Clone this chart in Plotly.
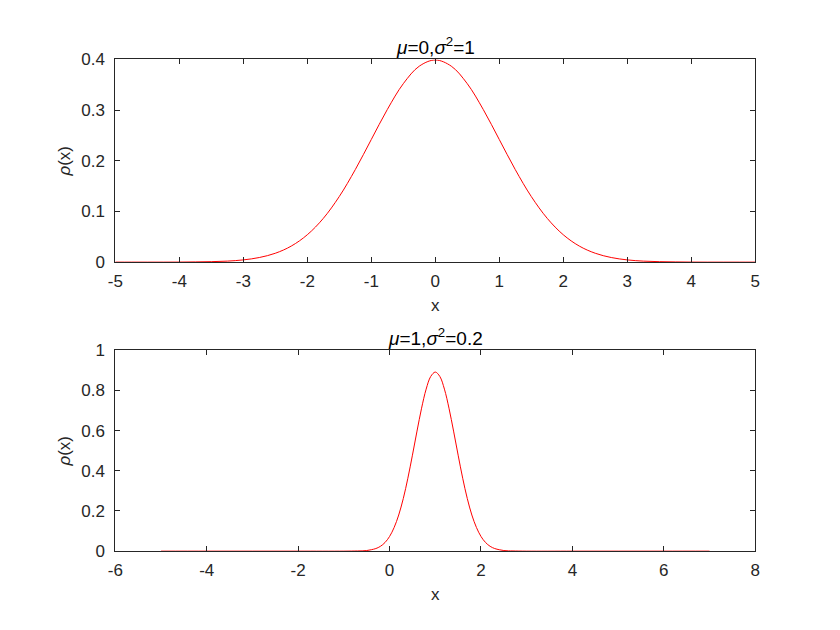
import plotly.graph_objects as go

# Top panel: mu=0, sigma^2=1
x_top = [-5.0, -4.75, -4.5, -4.25, -4.0, -3.75, -3.5, -3.25, -3.0, -2.75, -2.5, -2.25,
         -2.0, -1.75, -1.5, -1.25, -1.0, -0.75, -0.5, -0.25, 0.0, 0.25, 0.5, 0.75,
         1.0, 1.25, 1.5, 1.75, 2.0, 2.25, 2.5, 2.75, 3.0, 3.25, 3.5, 3.75, 4.0,
         4.25, 4.5, 4.75, 5.0]
y_top = [0.0, 0.0, 0.0, 0.0, 0.0001, 0.0004, 0.0009, 0.0020, 0.0044, 0.0091, 0.0175, 0.0317,
         0.0540, 0.0863, 0.1295, 0.1826, 0.2420, 0.3011, 0.3521, 0.3867, 0.3989, 0.3867, 0.3521, 0.3011,
         0.2420, 0.1826, 0.1295, 0.0863, 0.0540, 0.0317, 0.0175, 0.0091, 0.0044, 0.0020, 0.0009, 0.0004, 0.0001,
         0.0, 0.0, 0.0, 0.0]

# Bottom panel: mu=1, sigma^2=0.2
x_bot = [-5.0, -4.0, -3.0, -2.0, -1.0, -0.7, -0.6, -0.5, -0.4, -0.3, -0.2, -0.1, 0.0, 0.1, 0.2,
         0.3, 0.4, 0.5, 0.6, 0.7, 0.8, 0.9, 1.0, 1.1, 1.2, 1.3, 1.4, 1.5, 1.6, 1.7, 1.8,
         1.9, 2.0, 2.1, 2.2, 2.3, 2.4, 2.5, 2.6, 2.7, 3.0, 4.0, 5.0, 6.0, 7.0]
y_bot = [0.0, 0.0, 0.0, 0.0, 0.0, 0.001, 0.0015, 0.003, 0.007, 0.013, 0.024, 0.043, 0.073, 0.118, 0.180,
         0.262, 0.363, 0.478, 0.598, 0.712, 0.807, 0.870, 0.892, 0.870, 0.807, 0.712, 0.598, 0.478, 0.363, 0.262, 0.180,
         0.118, 0.073, 0.043, 0.024, 0.013, 0.007, 0.003, 0.0015, 0.001, 0.0, 0.0, 0.0, 0.0, 0.0]

top_title = "<i>μ</i>=0,<i>σ</i><sup>2</sup>=1"
bot_title = "<i>μ</i>=1,<i>σ</i><sup>2</sup>=0.2"
x_ticks_top = [-5, -4, -3, -2, -1, 0, 1, 2, 3, 4, 5]
x_labels_top = ["-5", "-4", "-3", "-2", "-1", "0", "1", "2", "3", "4", "5"]
y_ticks_top = [0, 0.1, 0.2, 0.3, 0.4]
y_labels_top = ["0", "0.1", "0.2", "0.3", "0.4"]
x_ticks_bot = [-6, -4, -2, 0, 2, 4, 6, 8]
x_labels_bot = ["-6", "-4", "-2", "0", "2", "4", "6", "8"]
y_ticks_bot = [0, 0.2, 0.4, 0.6, 0.8, 1]
y_labels_bot = ["0", "0.2", "0.4", "0.6", "0.8", "1"]

W, H = 840, 630
L, R = 109, 759
top_y = (52, 261)
bot_y = (352, 559)
FAM = "Liberation Sans, Arial, sans-serif"
INK = "#262626"

fig = go.Figure()
fig.add_trace(go.Scatter(x=x_top, y=y_top, mode="lines", line=dict(color="#ff0000", width=1, shape="spline"),
                         xaxis="x", yaxis="y", showlegend=False, hoverinfo="skip"))
fig.add_trace(go.Scatter(x=x_bot, y=y_bot, mode="lines", line=dict(color="#ff0000", width=1, shape="spline"),
                         xaxis="x2", yaxis="y2", showlegend=False, hoverinfo="skip"))

font = dict(family=FAM, size=17, color=INK)
axis_common = dict(showline=True, linecolor=INK, linewidth=1, mirror="ticks", ticks="inside",
                   ticklen=5, tickcolor=INK, showgrid=False, zeroline=False,
                   tickfont=font, title_font=dict(family=FAM, size=17, color=INK))
xaxis_extra = dict(ticklabelstandoff=3)
yaxis_extra = dict(ticklabelstandoff=6)

xd = [L / W, R / W]
fig.update_layout(
    width=W, height=H, margin=dict(l=0, r=0, t=0, b=0),
    paper_bgcolor="white", plot_bgcolor="white", font=font,
    xaxis=dict(domain=xd, range=[-5, 5], tickvals=x_ticks_top, ticktext=x_labels_top, anchor="y",
               title=dict(text="x", standoff=9), **axis_common, **xaxis_extra),
    yaxis=dict(domain=[1 - top_y[1] / H, 1 - top_y[0] / H], range=[0, 0.4], tickvals=y_ticks_top,
               ticktext=y_labels_top, anchor="x", title=dict(text="<i>ρ</i>(x)", standoff=6),
               **axis_common, **yaxis_extra),
    xaxis2=dict(domain=xd, range=[-6, 8], tickvals=x_ticks_bot, ticktext=x_labels_bot, anchor="y2",
                title=dict(text="x", standoff=9), **axis_common, **xaxis_extra),
    yaxis2=dict(domain=[1 - bot_y[1] / H, 1 - bot_y[0] / H], range=[0, 1], tickvals=y_ticks_bot,
                ticktext=y_labels_bot, anchor="x2", title=dict(text="<i>ρ</i>(x)", standoff=6),
                **axis_common, **yaxis_extra),
    annotations=[
        dict(text=top_title, x=(xd[0] + xd[1]) / 2, y=1 - top_y[0] / H, xref="paper", yref="paper",
             xanchor="center", yanchor="middle", showarrow=False, yshift=13,
             font=dict(family=FAM, size=19, color="#000000")),
        dict(text=bot_title, x=(xd[0] + xd[1]) / 2, y=1 - bot_y[0] / H, xref="paper", yref="paper",
             xanchor="center", yanchor="middle", showarrow=False, yshift=13,
             font=dict(family=FAM, size=19, color="#000000")),
    ],
)

fig.write_html("out.html", config={"displayModeBar": False},
               post_script="document.body.style.margin='0';document.body.style.overflow='hidden';")
